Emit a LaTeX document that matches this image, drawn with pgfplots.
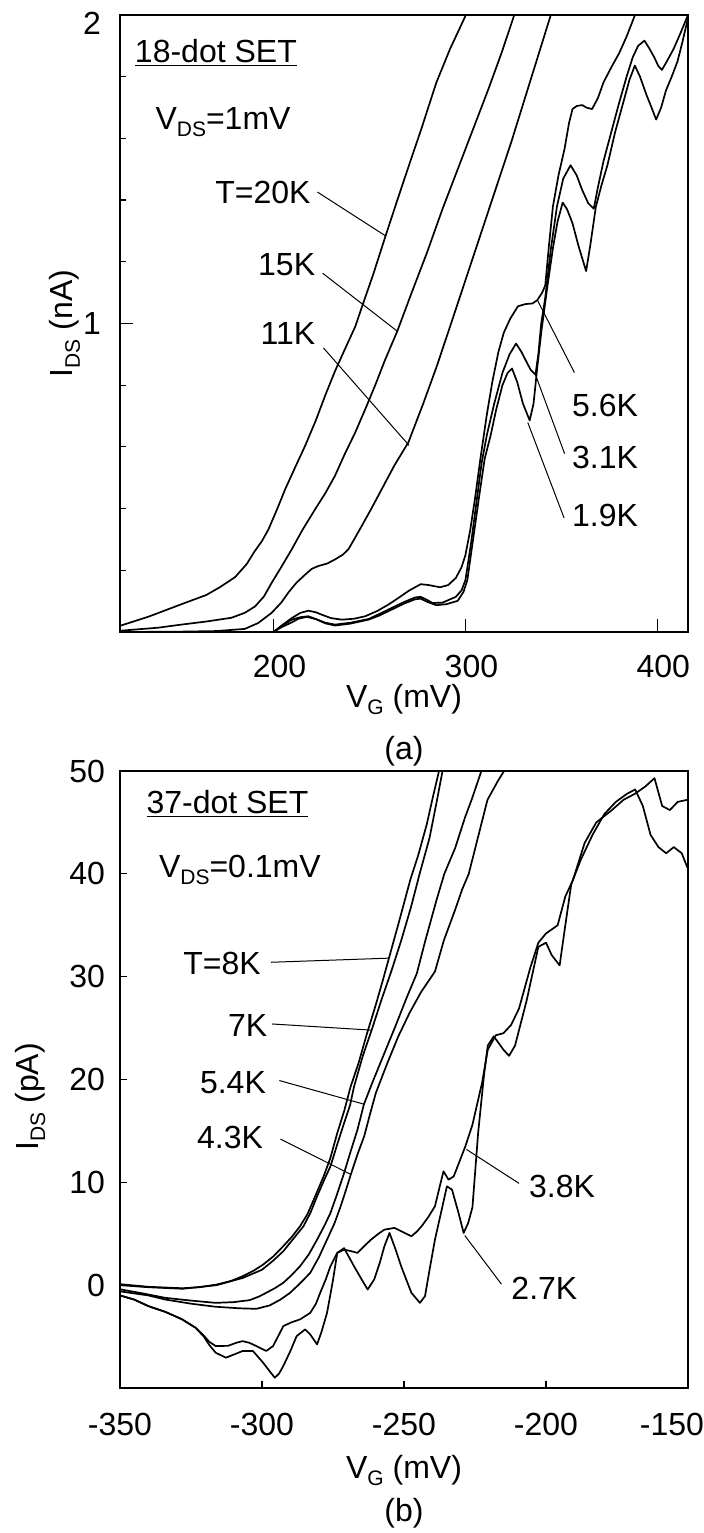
\documentclass[border=0pt]{standalone}
\usepackage{fontspec}
\setmainfont{Liberation Sans}
\usepackage{pgfplots}
\pgfplotsset{compat=1.18}
\newcommand\fs{\fontsize{16}{19.2}\selectfont}
\newcommand\sub[1]{\raisebox{-3.5pt}{\fontsize{10.5}{12}\selectfont #1}}
\begin{document}
\fs
\begin{tikzpicture}
\useasboundingbox (0,0) rectangle (352pt,766.5pt);
\pgfplotsset{
  myax/.style={
    scale only axis, width=284pt, height=308.5pt,
    tick align=inside, xtick pos=bottom, ytick pos=left,
    axis line style={line width=1.2pt},
    every tick/.style={black, line width=0.6pt},
    /pgf/number format/assume math mode=true,
    clip mode=individual,
    every axis plot post/.append style={black, solid, mark=none, line width=0.85pt, line join=round},
  }
}
% ---------------- panel (a)
\begin{axis}[myax,
  at={(60pt,450.5pt)}, anchor=south west,
  xmin=120, xmax=416, ymin=0, ymax=2,
  xtick={200,300,400}, ytick={0,1,2},
  yticklabels={,1,\raisebox{-4pt}[11.5pt][0pt]{2}},
  minor ytick={0.2,0.4,0.6,0.8,1.2,1.4,1.6,1.8},
  major tick length=6.5pt, minor tick length=3pt,
  xticklabel style={yshift=-6pt, xshift=3pt},
  yticklabel style={xshift=-4pt},
  xlabel={V\sub{G} (mV)},
  xlabel style={at={(axis description cs:0.5,-0.1216)}, anchor=base},
  ylabel={I\sub{DS} (nA)},
  ylabel style={at={(axis description cs:-0.097,0.5)}, anchor=center},
]
% T=20K
\addplot coordinates {(120,0.02)(135,0.05)(152,0.09)(165,0.12)(172,0.145)(180,0.178)(186,0.22)(190,0.26)(194,0.295)(197.4,0.333)(202,0.40)(206.1,0.463)(211,0.53)(216.5,0.604)(222,0.685)(226.9,0.766)(232,0.845)(237.3,0.918)(242.6,0.99)(246.2,1.056)(252,1.16)(258.4,1.284)(264,1.39)(270.6,1.513)(277,1.63)(284.8,1.78)(292,1.89)(301,2.01)};
% 15K
\addplot coordinates {(120,0.004)(140,0.014)(152,0.024)(165,0.034)(178,0.046)(185,0.062)(190.4,0.083)(195,0.115)(199,0.159)(204,0.21)(209.5,0.268)(215,0.33)(221.7,0.398)(227,0.45)(232,0.506)(237,0.575)(242.6,0.647)(248,0.725)(253,0.80)(258,0.88)(264.5,0.975)(272,1.10)(280,1.23)(288,1.37)(296,1.50)(304,1.63)(312,1.76)(319,1.88)(326,2.01)};
% 11K
\addplot coordinates {(120,0.0)(150,0.001)(170,0.003)(185,0.01)(192,0.029)(199,0.062)(204,0.095)(208,0.13)(212,0.16)(216.5,0.186)(220,0.205)(223.4,0.214)(228,0.222)(232,0.235)(236,0.25)(239,0.268)(242,0.30)(246,0.344)(251,0.40)(256.4,0.463)(263,0.54)(270.3,0.615)(278,0.74)(285,0.86)(292,0.99)(300,1.14)(308,1.29)(316,1.44)(324,1.59)(332,1.75)(338,1.87)(345,2.01)};
% 5.6K
\addplot coordinates {(200,0.0)(204,0.02)(209.5,0.045)(214,0.062)(218.2,0.069)(222,0.064)(225.2,0.056)(230,0.045)(235.6,0.04)(242,0.043)(247.8,0.051)(254,0.068)(259.9,0.089)(265,0.11)(270.6,0.134)(276.7,0.155)(281,0.152)(286.8,0.145)(291,0.152)(295,0.175)(298,0.21)(300,0.249)(302.5,0.33)(305.1,0.437)(308,0.57)(311.2,0.706)(314,0.81)(317.2,0.908)(320,0.97)(323.3,1.015)(327.4,1.056)(331.4,1.063)(335,1.065)(337.5,1.076)(340,1.10)(341.6,1.123)(343.5,1.25)(345.6,1.379)(348.5,1.48)(351.7,1.567)(354,1.65)(355.8,1.695)(358,1.705)(360.9,1.708)(363,1.70)(366,1.695)(369,1.73)(372,1.782)(376,1.83)(380.1,1.876)(384,1.93)(389,2.01)};
% 3.1K
\addplot coordinates {(200,0.0)(204,0.015)(209.5,0.031)(213,0.043)(217.3,0.049)(222,0.042)(227,0.03)(232.1,0.024)(240,0.03)(249.5,0.042)(255,0.058)(261.6,0.078)(268,0.097)(273.8,0.112)(276.7,0.114)(280,0.104)(282.8,0.094)(288,0.095)(295,0.114)(298,0.135)(300,0.168)(303,0.29)(306.1,0.437)(308.5,0.55)(311.2,0.639)(315,0.74)(319.3,0.84)(323,0.90)(326.4,0.935)(329,0.91)(331.4,0.881)(334,0.85)(336.5,0.834)(338,0.90)(339.5,1.0)(341.6,1.083)(344.5,1.24)(347.7,1.379)(351,1.47)(354.8,1.513)(358,1.48)(360.9,1.432)(364,1.39)(366.9,1.372)(369,1.44)(372,1.527)(376,1.62)(380.1,1.715)(384,1.80)(387.2,1.863)(390,1.90)(393.3,1.917)(396,1.89)(398.4,1.863)(400.5,1.835)(402.4,1.822)(405,1.85)(408.5,1.89)(412,1.94)(416,2.0)};
% 1.9K
\addplot coordinates {(200,0.0)(204,0.018)(209.5,0.04)(214,0.048)(218.2,0.051)(222,0.042)(227,0.028)(232.1,0.021)(240,0.027)(249.5,0.04)(255,0.053)(261.7,0.073)(268,0.092)(273.8,0.106)(276.7,0.108)(280,0.098)(284.8,0.087)(290,0.09)(296,0.101)(299,0.13)(301,0.168)(304,0.30)(307.1,0.437)(310,0.56)(313.2,0.639)(316,0.72)(319.3,0.80)(322,0.84)(324.3,0.854)(327,0.81)(330,0.74)(333.5,0.686)(335.5,0.74)(337.5,0.86)(339.6,0.975)(342.5,1.11)(345.6,1.244)(348,1.33)(350.7,1.392)(353,1.37)(355.8,1.325)(359,1.25)(362.9,1.17)(365,1.25)(368,1.379)(371,1.45)(374,1.513)(378,1.62)(382.2,1.715)(385.5,1.79)(388.3,1.836)(391,1.80)(394.3,1.742)(397,1.70)(399.4,1.661)(402,1.70)(404.5,1.755)(407.5,1.80)(410.5,1.849)(413,1.91)(416,1.99)};
% annotations
\node[anchor=west, inner sep=0pt] at (axis cs:127.6,1.876) {\underline{18-dot SET}};
\node[anchor=west, inner sep=0pt] at (axis cs:138.3,1.654) {V\sub{DS}=1mV};
\node[anchor=east, inner sep=0pt] at (axis cs:219.5,1.426) {T=20K};
\node[anchor=east, inner sep=0pt] at (axis cs:221.9,1.19) {15K};
\node[anchor=east, inner sep=0pt] at (axis cs:221.9,0.968) {11K};
\node[anchor=west, inner sep=0pt] at (axis cs:355.4,0.733) {5.6K};
\node[anchor=west, inner sep=0pt] at (axis cs:355.4,0.565) {3.1K};
\node[anchor=west, inner sep=0pt] at (axis cs:355.4,0.377) {1.9K};
\draw[line width=0.5pt] (axis cs:222.9,1.426) -- (axis cs:258.4,1.284);
\draw[line width=0.5pt] (axis cs:225.6,1.163) -- (axis cs:264.5,0.975);
\draw[line width=0.5pt] (axis cs:226,0.921) -- (axis cs:270.6,0.605);
\draw[line width=0.5pt] (axis cs:356.8,0.841) -- (axis cs:337.5,1.076);
\draw[line width=0.5pt] (axis cs:351.7,0.578) -- (axis cs:336.5,0.834);
\draw[line width=0.5pt] (axis cs:351.4,0.37) -- (axis cs:332.5,0.679);
\node[anchor=base] at (axis description cs:0.5,-0.206) {(a)};
\end{axis}
% ---------------- panel (b)
\begin{axis}[myax,
  at={(60pt,72.5pt)}, anchor=south west,
  xmin=-350, xmax=-150, ymin=-10, ymax=50,
  xtick={-350,-300,-250,-200,-150},
  xticklabels={-350,-300,-250,-200,{\hspace*{-16pt}-150}},
  ytick={-10,0,10,20,30,40,50}, yticklabels={,0,10,20,30,40,50},
  major tick length=3.5pt,
  xticklabel style={yshift=-7pt},
  yticklabel style={xshift=-2pt},
  xlabel={V\sub{G} (mV)},
  xlabel style={at={(axis description cs:0.5,-0.1459)}, anchor=base},
  ylabel={I\sub{DS} (pA)},
  ylabel style={at={(axis description cs:-0.158,0.472)}, anchor=center},
]
% 8K
\addplot coordinates {(-350,0.1)(-340,-0.16)(-328,-0.3)(-322,-0.2)(-316,0.06)(-311,0.4)(-306.8,0.87)(-303,1.4)(-299.6,2.0)(-296,2.8)(-292.5,3.79)(-289.5,4.7)(-286.6,5.73)(-284,6.9)(-281.8,8.3)(-278.3,10.58)(-276,12.3)(-273.5,14.79)(-271,17.0)(-268.8,19.3)(-266,21.6)(-263,24.5)(-260,27.2)(-257.6,29.5)(-255.3,31.8)(-251.8,35.3)(-247.7,39.5)(-245,41.8)(-242,44.8)(-239.8,47.5)(-237.5,50.2)};
% 7K
\addplot coordinates {(-350,0.0)(-340,-0.2)(-328,-0.35)(-316,0.0)(-306.8,0.7)(-300,1.5)(-296,2.4)(-292.5,3.3)(-289,4.5)(-285.4,5.73)(-283,7.0)(-280.6,8.64)(-278,10.3)(-275.9,11.55)(-273.5,13.7)(-271.1,15.76)(-269,17.5)(-267.6,19.3)(-264.5,22.3)(-261.4,24.8)(-258,27.7)(-254.5,30.5)(-251,33.5)(-247.5,36.8)(-244.5,40)(-241,43.5)(-238.5,47)(-236.3,50.2)};
% 5.4K
\addplot coordinates {(-350,-0.4)(-342,-0.8)(-334.1,-1.23)(-325,-1.5)(-316.3,-1.72)(-310,-1.65)(-304.4,-1.46)(-301,-1.1)(-298.5,-0.74)(-295.5,-0.3)(-292.5,0.23)(-289.5,1.0)(-286.6,1.84)(-283.5,3.0)(-280.6,4.43)(-278,5.8)(-275.9,7.02)(-273.5,8.9)(-271.1,10.9)(-268.8,13.0)(-266.4,15.1)(-264.1,17.6)(-261,19.8)(-257,22.5)(-253,25.2)(-249,28)(-245.5,30.3)(-242.5,33.5)(-238.5,37.5)(-235.8,40)(-232,42.5)(-228.5,45.5)(-226.2,47.2)(-222.5,50.2)};
% 4.3K
\addplot coordinates {(-350,-0.6)(-340,-1.0)(-334,-1.4)(-325,-1.8)(-316.3,-2.1)(-308,-2.25)(-302,-2.3)(-297.3,-1.97)(-293.5,-1.4)(-290.1,-0.74)(-286.5,0.2)(-283,1.2)(-280,2.7)(-277.1,4.43)(-274.5,6.0)(-272.3,7.67)(-270.5,9.2)(-268.8,10.7)(-266.4,12.7)(-264,14.5)(-262,16.6)(-259.9,18.7)(-256,21.5)(-252,24.2)(-248,26.5)(-244,28.5)(-239.1,30.5)(-236,33.5)(-232,36.5)(-229.5,38.5)(-227.2,40)(-224,43.5)(-220.6,47.2)(-217,49)(-214.3,50.2)};
% 3.8K
\addplot coordinates {(-350,-1.0)(-345,-1.4)(-340,-2.04)(-334,-2.6)(-328.1,-3.33)(-323.4,-4.14)(-320.5,-4.9)(-318.6,-5.5)(-316.3,-5.92)(-312,-5.9)(-309,-5.6)(-306.8,-5.44)(-304.5,-5.6)(-302,-5.92)(-298.5,-6.4)(-296.1,-5.92)(-294,-4.8)(-292.5,-3.98)(-289.5,-3.6)(-286.6,-3.33)(-283,-2.69)(-281,-1.8)(-279.5,-0.74)(-277.5,0.6)(-275.9,1.84)(-273.5,3.14)(-271.1,3.46)(-268.5,3.3)(-266.4,3.14)(-264,3.8)(-261.6,4.43)(-259,5.0)(-256.9,5.4)(-253.3,5.57)(-249.8,5.08)(-247.4,4.76)(-245.5,5.2)(-243.8,5.73)(-241.5,6.6)(-239.1,7.67)(-237.5,9.5)(-236.1,11.07)(-234.3,10.26)(-232.5,10.58)(-230.5,12.0)(-228.4,13.5)(-225.9,15.6)(-222.5,19.7)(-220.5,22.9)(-217.7,24.3)(-215,24.5)(-212.3,25.3)(-209.5,26.9)(-205.5,30.9)(-202.7,33.3)(-200,34.2)(-195.9,35)(-193.2,37.8)(-190.5,39.4)(-186.4,43)(-182.3,45)(-176.8,46.2)(-172.7,47.2)(-168.6,47.8)(-165,48.5)(-161.8,49.3)(-159.1,46.6)(-156.4,46.2)(-153.6,47)(-150.2,47.2)};
% 2.7K
\addplot coordinates {(-350,-1.0)(-345,-1.4)(-340,-2.04)(-334,-2.6)(-328.1,-3.33)(-323.4,-4.14)(-320.5,-5.0)(-318.6,-5.8)(-316.3,-6.57)(-312.7,-7.05)(-309.5,-6.7)(-306.8,-6.4)(-303.2,-6.4)(-299.6,-7.54)(-297.5,-8.3)(-295.5,-9.0)(-294,-8.6)(-292.5,-7.86)(-290,-6.4)(-287.8,-4.95)(-284.8,-4.3)(-283,-4.8)(-280.6,-5.76)(-279,-4.5)(-277.1,-2.69)(-275,0.5)(-273.5,3.14)(-271.1,3.6)(-269.5,2.8)(-267.6,1.84)(-265,0.6)(-262.8,-0.42)(-260.5,0.55)(-258.5,2.2)(-256.9,3.79)(-255.1,5.08)(-253,3.5)(-251,1.84)(-249,0.4)(-247.4,-0.74)(-244.4,-1.72)(-242.6,-1.07)(-241,1.5)(-239.1,4.43)(-237,7.0)(-234.9,9.61)(-233.1,9.29)(-230.8,7.02)(-229,5.08)(-227.4,6.05)(-225.9,7.57)(-223.9,14.8)(-221.8,20.5)(-220.5,23.3)(-218.4,24.2)(-215,22.9)(-213,22.3)(-210.9,23.3)(-206.8,27.7)(-202.7,32.9)(-200,33.3)(-198,32.1)(-195.2,31.1)(-193.2,35)(-191.1,39)(-187.7,41.4)(-183.6,43.8)(-179.5,45.8)(-175.4,47)(-171.4,47.8)(-168.6,48.2)(-165.9,46.6)(-163.2,43.8)(-160.4,42.6)(-157.7,42)(-155,42.6)(-152.2,42)(-150.2,40.6)};
% annotations
\node[anchor=west, inner sep=0pt] at (axis cs:-340.8,46.8) {\underline{37-dot SET}};
\node[anchor=west, inner sep=0pt] at (axis cs:-336.4,40.4) {V\sub{DS}=0.1mV};
\node[anchor=east, inner sep=0pt] at (axis cs:-300.3,31.3) {T=8K};
\node[anchor=east, inner sep=0pt] at (axis cs:-298,25.3) {7K};
\node[anchor=east, inner sep=0pt] at (axis cs:-298.5,19.7) {5.4K};
\node[anchor=east, inner sep=0pt] at (axis cs:-299.5,14.4) {4.3K};
\node[anchor=west, inner sep=0pt] at (axis cs:-206.1,9.6) {3.8K};
\node[anchor=west, inner sep=0pt] at (axis cs:-212.3,-0.3) {2.7K};
\draw[line width=0.5pt] (axis cs:-296.9,31.4) -- (axis cs:-255.3,31.8);
\draw[line width=0.5pt] (axis cs:-296.5,25.4) -- (axis cs:-261.4,24.8);
\draw[line width=0.5pt] (axis cs:-293.9,19.9) -- (axis cs:-264.1,17.6);
\draw[line width=0.5pt] (axis cs:-293.5,14.2) -- (axis cs:-268.9,10.8);
\draw[line width=0.5pt] (axis cs:-209.5,9.9) -- (axis cs:-228,13.2);
\draw[line width=0.5pt] (axis cs:-215.7,0.1) -- (axis cs:-228.6,4.83);
\node[anchor=base] at (axis description cs:0.5,-0.217) {(b)};
\end{axis}
\end{tikzpicture}
\end{document}
